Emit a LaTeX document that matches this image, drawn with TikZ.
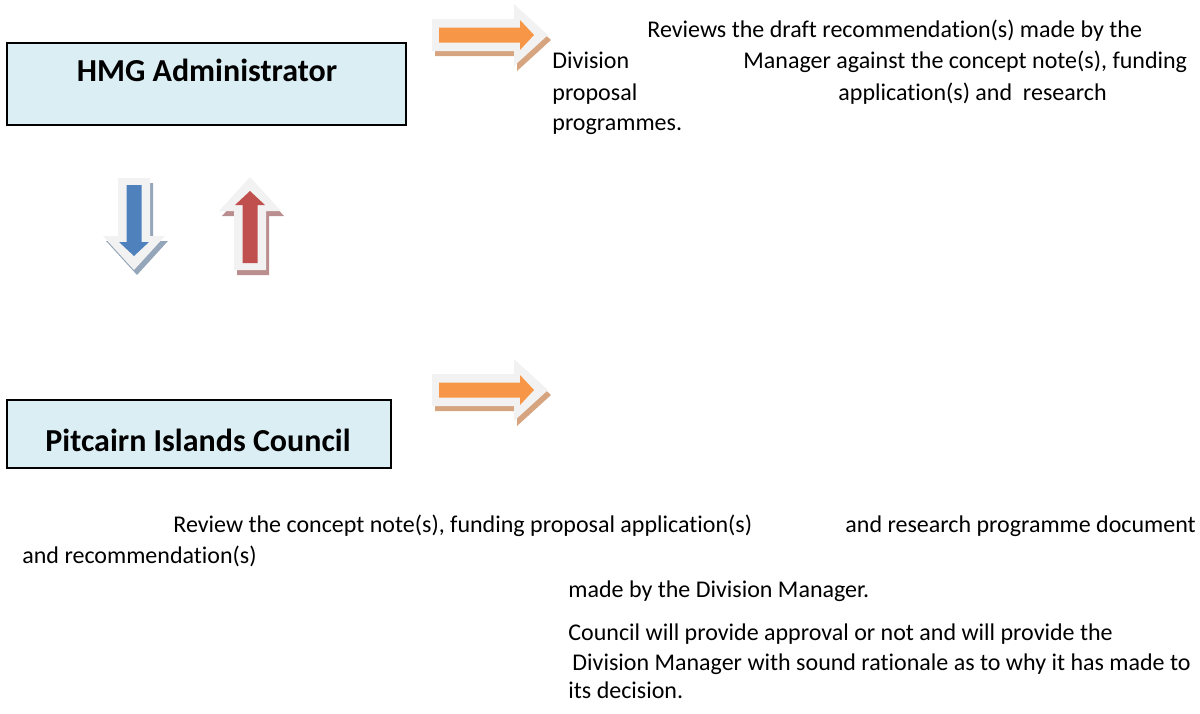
\documentclass[tikz,border=0pt]{standalone}
\usepackage{fontspec}
\setmainfont{Carlito}[Ligatures=NoCommon]
\definecolor{boxblue}{RGB}{219,238,244}
\definecolor{glow}{RGB}{242,242,242}
\definecolor{arroworange}{RGB}{247,150,70}
\definecolor{shadeorange}{RGB}{214,164,127}
\definecolor{arrowblue}{RGB}{79,129,189}
\definecolor{shadeblue}{RGB}{150,166,186}
\definecolor{arrowred}{RGB}{192,80,77}
\definecolor{shadered}{RGB}{186,142,142}
\tikzset{
	box/.style={draw=black, line width=1pt, fill=boxblue},
	title/.style={font=\fontsize{16}{19}\selectfont\bfseries, anchor=base, inner sep=0pt},
	txt/.style={font=\fontsize{12}{14}\selectfont, anchor=base west, inner sep=0pt},
}
% fat arrow: x, y, angle, length, fill, shadow
\newcommand{\fatarrow}[6]{%
	\begin{scope}[shift={(#1+3,#2+5)},rotate=#3]
		\fill[#6] (0,-16) -- (#4-34,-16) -- (#4-34,-31) -- (#4,0) -- (#4-34,31) -- (#4-34,16) -- (0,16) -- cycle;
	\end{scope}
	\begin{scope}[shift={(#1,#2)},rotate=#3]
		\fill[glow] (0,-16) -- (#4-34,-16) -- (#4-34,-31) -- (#4,0) -- (#4-34,31) -- (#4-34,16) -- (0,16) -- cycle;
		\fill[#5] (7,-7.5) -- (#4-28,-7.5) -- (#4-28,-15) -- (#4-14,0) -- (#4-28,15) -- (#4-28,7.5) -- (7,7.5) -- cycle;
	\end{scope}}

\begin{document}
\begin{tikzpicture}[x=0.5pt,y=-0.5pt]
			\useasboundingbox (0,0) rectangle (1200,713);
			% boxes
			\draw[box] (7,43) rectangle (406,125);
			\node[title] (admin) at (207,81) {HMG Administrator};
			\draw[box] (7,400) rectangle (391,468);
			\node[title] (council) at (198,451) {Pitcairn Islands Council};
			% arrows
			\fatarrow{432}{35}{0}{116}{arroworange}{shadeorange}
			\fatarrow{432}{390}{0}{116}{arroworange}{shadeorange}
			\fatarrow{134}{178}{-90}{92}{arrowblue}{shadeblue}
			\fatarrow{250}{270}{90}{93}{arrowred}{shadered}
			% administrator text
			\node[txt] (rev1) at (647,37) {Reviews the draft recommendation(s) made by the};
			\node[txt] (rev2a) at (552,68) {Division};
			\node[txt] (rev2b) at (743,68) {Manager against the concept note(s), funding};
			\node[txt] (rev3a) at (552,100) {proposal};
			\node[txt] (rev3b) at (838,100) {application(s) and\ \ research};
			\node[txt] (rev4) at (552,130) {programmes.};
			% council text
			\node[txt] (pic1a) at (173,532) {Review the concept note(s), funding proposal application(s)};
			\node[txt] (pic1b) at (845,532) {and research programme document};
			\node[txt] (pic2) at (22,563) {and recommendation(s)};
			\node[txt] (pic3) at (568,597) {made by the Division Manager.};
			\node[txt] (pic4) at (568,640) {Council will provide approval or not and will provide the};
			\node[txt] (pic5) at (572,670) {Division Manager with sound rationale as to why it has made to};
			\node[txt] (pic6) at (568,698) {its decision.};
		\end{tikzpicture}
\end{document}
